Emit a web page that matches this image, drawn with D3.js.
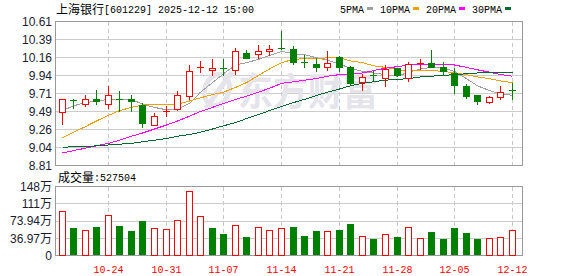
<!DOCTYPE html>
<html>
<head>
<meta charset="utf-8">
<script src="https://cdn.jsdelivr.net/npm/d3@7"></script>
<style>
  html, body { margin: 0; padding: 0; background: #fff; }
  svg { display: block; }
</style>
</head>
<body>
<div id="chart"></div>
<script>
// trading days shown
const dates = [
  "10-20","10-21","10-22","10-23","10-24",
  "10-27","10-28","10-29","10-30","10-31",
  "11-03","11-04","11-05","11-06","11-07",
  "11-10","11-11","11-12","11-13","11-14",
  "11-17","11-18","11-19","11-20","11-21",
  "11-24","11-25","11-26","11-27","11-28",
  "12-01","12-02","12-03","12-04","12-05",
  "12-08","12-09","12-10","12-11","12-12"
]
const dateTicks = ["10-24","10-31","11-07","11-14","11-21","11-28","12-05","12-12"]

// OHLC
const open  = [9.47,9.62,9.57,9.63,9.57,9.63,9.64,9.56,9.31,9.48,9.51,9.67,10.03,10.00,10.02,10.00,10.21,10.20,10.24,10.27,10.26,10.10,10.07,10.04,10.16,10.03,9.85,9.93,9.90,10.02,9.90,10.08,10.09,10.03,9.96,9.80,9.68,9.60,9.66,9.75]
const high  = [9.64,9.64,9.68,9.75,9.80,9.73,9.68,9.59,9.46,9.55,9.73,10.06,10.11,10.13,10.13,10.27,10.25,10.31,10.31,10.48,10.30,10.19,10.15,10.23,10.17,10.05,9.95,9.98,10.06,10.02,10.10,10.14,10.25,10.10,10.02,9.82,9.69,9.67,9.80,9.84]
const low   = [9.32,9.52,9.55,9.57,9.52,9.49,9.48,9.29,9.31,9.42,9.50,9.64,9.97,9.94,9.94,9.95,10.15,10.15,10.19,10.26,10.07,10.03,9.98,10.00,9.98,9.82,9.75,9.87,9.80,9.92,9.86,10.01,10.03,9.94,9.71,9.65,9.57,9.58,9.64,9.63]
const close = [9.63,9.61,9.64,9.61,9.68,9.62,9.61,9.34,9.42,9.49,9.68,9.99,10.04,10.02,10.01,10.24,10.15,10.23,10.26,10.26,10.10,10.09,10.04,10.09,10.03,9.84,9.91,9.92,10.01,9.94,10.07,10.09,10.04,9.98,9.81,9.67,9.61,9.66,9.72,9.73]

// moving averages
const ma5  = [9.49,9.55,9.59,9.61,9.63,9.63,9.63,9.57,9.53,9.50,9.51,9.58,9.72,9.84,9.95,10.06,10.09,10.13,10.18,10.23,10.20,10.19,10.15,10.12,10.07,10.02,9.98,9.96,9.94,9.92,9.97,10.01,10.03,10.02,9.98,9.89,9.80,9.74,9.70,9.68]
const ma10 = [9.15,9.22,9.29,9.36,9.43,9.49,9.53,9.56,9.57,9.57,9.57,9.61,9.65,9.69,9.72,9.78,9.84,9.93,10.01,10.09,10.13,10.14,10.14,10.15,10.15,10.11,10.09,10.05,10.03,10.00,9.99,9.99,9.99,9.98,9.96,9.94,9.91,9.89,9.86,9.84]
const ma20 = [8.96,8.99,9.02,9.05,9.08,9.12,9.17,9.21,9.26,9.31,9.36,9.42,9.48,9.53,9.58,9.63,9.67,9.72,9.77,9.83,9.85,9.87,9.89,9.92,9.94,9.95,9.96,9.99,10.02,10.04,10.06,10.07,10.07,10.07,10.06,10.03,10.00,9.97,9.94,9.92]
const ma30 = [9.03,9.04,9.04,9.05,9.06,9.07,9.08,9.10,9.12,9.14,9.17,9.19,9.22,9.26,9.30,9.34,9.39,9.44,9.49,9.54,9.59,9.63,9.68,9.72,9.76,9.80,9.83,9.85,9.87,9.88,9.89,9.91,9.92,9.93,9.94,9.95,9.96,9.97,9.97,9.97]

// volume in 万, and whether the bar is drawn red (1) or green (0)
const volume = [94.3,57.9,53.6,60.0,85.7,62.8,51.4,73.5,57.9,55.7,75.0,137.2,83.6,57.9,45.7,64.3,38.6,60.0,53.6,57.2,60.0,40.7,51.4,51.4,53.6,66.4,40.0,34.3,45.0,38.6,60.0,35.7,49.3,34.3,57.9,47.1,34.3,35.7,37.9,52.75]
const volUp  = [1,0,1,0,1,0,0,0,1,1,1,1,1,0,0,1,0,1,1,1,0,0,0,1,0,0,1,0,1,0,1,1,0,0,0,0,0,1,1,1]

const priceTicks  = [8.81, 9.035, 9.26, 9.485, 9.71, 9.935, 10.16, 10.385, 10.61]
const priceLabels = ["8.81","9.04","9.26","9.49","9.71","9.94","10.16","10.39","10.61"]
const volTicks    = [0, 36.97, 73.94, 110.91, 147.88]
const volLabels   = ["0","36.97","73.94","111","148"]

const maNames  = ["5PMA","10PMA","20PMA","30PMA"]
const maColors = ["#a0a0a0","#f0a000","#ff00ff","#00692f"]

// ---------------------------------------------------------------
const width = 578, height = 276
const left = 55, right = 522
const mainTop = 21, mainBottom = 165
const volTop = 186, volBottom = 255

const RED = "#ff0000", GREEN = "#008000"
const MONO = "'Liberation Mono', 'DejaVu Sans Mono', monospace"
const CJK = "'Noto Sans CJK SC', sans-serif"
const SANS = "'Liberation Sans', Arial, sans-serif"

const svg = d3.select("#chart").append("svg")
  .attr("width", width)
  .attr("height", height)

const x = d3.scaleBand()
  .domain(dates)
  .range([56.3, 518.3])
  .padding(0)
const cx = d => Math.floor(x(d) + x.bandwidth() / 2)

const y = d3.scaleLinear().domain([8.81, 10.61]).range([mainBottom, mainTop])
const yv = d3.scaleLinear().domain([0, 147.88]).range([volBottom, volTop])

// title + legend
svg.append("text")
  .attr("x", 56).attr("y", 14)
  .style("font-family", CJK).style("font-size", "12px")
  .text("上海银行")
svg.append("text")
  .attr("x", 104).attr("y", 13)
  .attr("textLength", 150).attr("lengthAdjust", "spacingAndGlyphs")
  .style("font-family", MONO).style("font-size", "11px")
  .text("[601229] 2025-12-12 15:00")

let lx = 340
maNames.forEach((name, i) => {
  svg.append("text")
    .attr("x", lx).attr("y", 13)
    .attr("textLength", name.length * 6).attr("lengthAdjust", "spacingAndGlyphs")
    .style("font-family", MONO).style("font-size", "11px")
    .text(name)
  lx += name.length * 6 + 3
  svg.append("rect")
    .attr("x", lx).attr("y", 7)
    .attr("width", 6).attr("height", 3)
    .attr("fill", maColors[i])
  lx += 6 + 7
})

// grids for a panel
function drawGrid(top, bottom, ticks, scale) {
  const g = svg.append("g").attr("shape-rendering", "crispEdges")
  g.selectAll(".h")
    .data(ticks.slice(1, -1))
    .enter().append("line")
      .attr("x1", left).attr("x2", right)
      .attr("y1", d => Math.round(scale(d)) + 0.5)
      .attr("y2", d => Math.round(scale(d)) + 0.5)
      .attr("stroke", "#cccccc")
  g.selectAll(".v")
    .data(dateTicks)
    .enter().append("line")
      .attr("x1", d => cx(d) + 0.5).attr("x2", d => cx(d) + 0.5)
      .attr("y1", top + 1).attr("y2", bottom)
      .attr("stroke", "#c8c8c8")
      .attr("stroke-dasharray", "4,3")
  g.append("rect")
    .attr("x", left + 0.5).attr("y", top + 0.5)
    .attr("width", right - left).attr("height", bottom - top)
    .attr("fill", "none")
    .attr("stroke", "#999999")
}

drawGrid(mainTop, mainBottom, priceTicks, y)
drawGrid(volTop, volBottom, volTicks, yv)

// watermark
const wm = svg.append("g").attr("fill", "none").attr("stroke", "#e4e4ea")
wm.append("ellipse")
  .attr("cx", 217).attr("cy", 90).attr("rx", 12).attr("ry", 16)
  .attr("stroke-width", 5)
  .attr("transform", "rotate(20,217,90)")
wm.append("line")
  .attr("x1", 206).attr("y1", 108).attr("x2", 232).attr("y2", 72)
  .attr("stroke-width", 5)
svg.append("text")
  .attr("x", 238).attr("y", 105)
  .attr("textLength", 140).attr("lengthAdjust", "spacingAndGlyphs")
  .style("font-family", CJK).style("font-size", "38px").style("font-weight", "bold")
  .attr("fill", "#e4e4ea")
  .text("东方财富")

// y labels
const priceAxis = svg.append("g")
  .attr("transform", `translate(${left},0)`)
  .call(d3.axisLeft(y).tickValues(priceTicks).tickFormat((d, i) => priceLabels[i]).tickSize(0).tickPadding(3))
priceAxis.select(".domain").remove()
priceAxis.selectAll("text")
  .attr("dy", "0.36em")
  .style("font-family", SANS).style("font-size", "12px").attr("fill", "#1c1c30")

const volAxis = svg.append("g")
  .attr("transform", `translate(${left},0)`)
  .call(d3.axisLeft(yv).tickValues(volTicks).tickFormat("").tickSize(0).tickPadding(3))
volAxis.select(".domain").remove()
volAxis.selectAll("text")
  .attr("dy", "0.36em")
  .style("font-family", SANS).style("font-size", "12px").attr("fill", "#1c1c30")
  .each(function (d, i) {
    const t = d3.select(this)
    t.append("tspan").text(volLabels[i])
    if (i > 0) t.append("tspan").style("font-family", CJK).text("万")
  })

// x labels
const xAxis = svg.append("g")
  .attr("transform", `translate(0,${volBottom})`)
  .call(d3.axisBottom(x).tickValues(dateTicks).tickSize(0).tickPadding(10))
xAxis.select(".domain").remove()
xAxis.selectAll(".tick").attr("transform", d => `translate(${cx(d) + 0.5},0)`)
xAxis.selectAll("text")
  .attr("textLength", 30).attr("lengthAdjust", "spacingAndGlyphs")
  .style("font-family", MONO).style("font-size", "11px").attr("fill", RED)

// volume title
svg.append("text")
  .attr("x", 58).attr("y", 182)
  .style("font-family", CJK).style("font-size", "12px")
  .text("成交量")
svg.append("text")
  .attr("x", 94).attr("y", 181)
  .attr("textLength", 42).attr("lengthAdjust", "spacingAndGlyphs")
  .style("font-family", MONO).style("font-size", "11px")
  .text(":527504")

// moving average lines
const maSeries = [ma5, ma10, ma20, ma30]
const lineGen = d3.line()
  .x((d, i) => cx(dates[i]) + 0.5)
  .y(d => y(d))
const maG = svg.append("g").attr("shape-rendering", "crispEdges")
maSeries.forEach((s, k) => {
  maG.append("path")
    .datum(s)
    .attr("d", lineGen)
    .attr("fill", "none")
    .attr("stroke", maColors[k])
    .attr("stroke-width", 1)
})

// candles
const candles = dates.map((d, i) => ({ d, o: open[i], h: high[i], l: low[i], c: close[i] }))
const cg = svg.append("g").attr("shape-rendering", "crispEdges")
  .selectAll("g")
  .data(candles)
  .enter().append("g")

cg.each(function (k) {
  const g = d3.select(this)
  const up = k.c > k.o
  const col = up ? RED : GREEN
  const xc = cx(k.d)
  const yTop = Math.round(y(Math.max(k.o, k.c)))
  const yBot = Math.round(y(Math.min(k.o, k.c)))
  const yH = Math.round(y(k.h)), yL = Math.round(y(k.l))
  g.append("line")
    .attr("x1", xc + 0.5).attr("x2", xc + 0.5)
    .attr("y1", yH).attr("y2", yL + 1)
    .attr("stroke", col)
  if (yBot - yTop < 2) {
    g.append("line")
      .attr("x1", xc - 3).attr("x2", xc + 4)
      .attr("y1", yTop + 0.5).attr("y2", yTop + 0.5)
      .attr("stroke", col)
  } else if (up) {
    g.append("rect")
      .attr("x", xc - 2.5).attr("y", yTop + 0.5)
      .attr("width", 6).attr("height", yBot - yTop)
      .attr("fill", "#fff").attr("stroke", col)
  } else {
    g.append("rect")
      .attr("x", xc - 3).attr("y", yTop)
      .attr("width", 7).attr("height", yBot - yTop + 1)
      .attr("fill", col)
  }
})

// volume bars
svg.append("g").attr("shape-rendering", "crispEdges")
  .selectAll("rect")
  .data(dates)
  .enter().append("rect")
    .attr("x", d => volUp[dates.indexOf(d)] ? cx(d) - 2.5 : cx(d) - 3)
    .attr("y", (d, i) => Math.round(yv(volume[i])) + (volUp[i] ? 0.5 : 0))
    .attr("width", (d, i) => volUp[i] ? 6 : 7)
    .attr("height", (d, i) => volBottom - Math.round(yv(volume[i])) - (volUp[i] ? 0.5 : 0))
    .attr("fill", (d, i) => volUp[i] ? "#fff" : GREEN)
    .attr("stroke", (d, i) => volUp[i] ? RED : "none")
</script>
</body>
</html>
